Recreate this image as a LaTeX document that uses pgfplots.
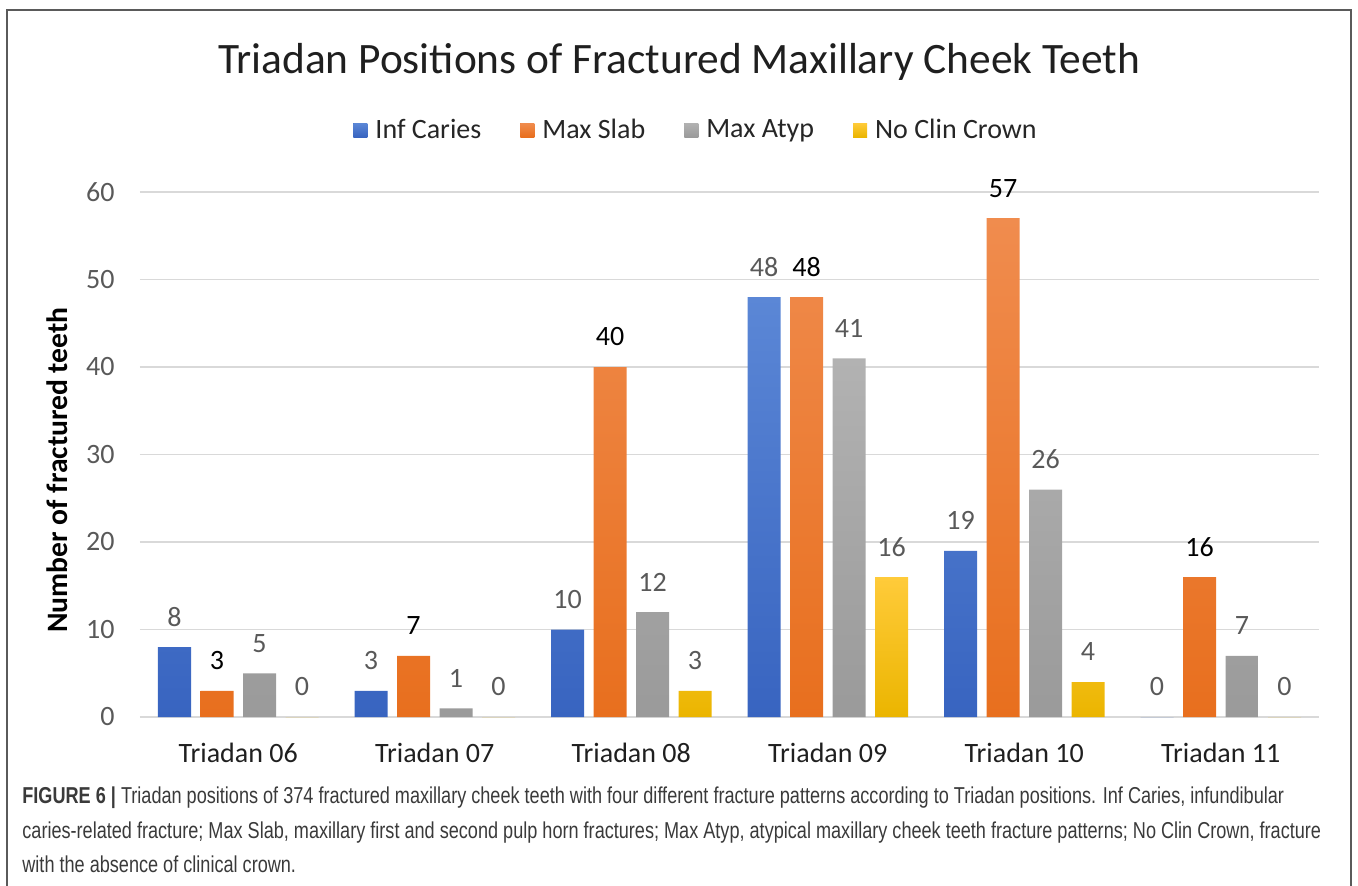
\documentclass[border=0pt]{standalone}
\usepackage{pgfplots}
\usepackage{pgfplotstable}
\pgfplotsset{compat=1.18}
\usepackage{fontspec}
\setmainfont{Carlito}
\newfontfamily\capfont[FakeStretch=0.787]{Liberation Sans}
\definecolor{cblueT}{HTML}{5B87D6}
\definecolor{cblueB}{HTML}{3864C0}
\definecolor{cblue}{HTML}{4472C4}
\definecolor{corangeT}{HTML}{F08C4E}
\definecolor{corangeB}{HTML}{E86F1E}
\definecolor{corange}{HTML}{ED7D31}
\definecolor{cgrayT}{HTML}{B2B2B2}
\definecolor{cgrayB}{HTML}{9A9A9A}
\definecolor{cgray}{HTML}{A5A5A5}
\definecolor{cyelT}{HTML}{FFCB3A}
\definecolor{cyelB}{HTML}{EBB500}
\definecolor{cyel}{HTML}{FFC000}
\definecolor{gridc}{HTML}{D9D9D9}
\definecolor{lab}{HTML}{595959}
\definecolor{capc}{HTML}{3A3A3A}
\definecolor{framec}{HTML}{5A5A5A}

\pgfplotstableread{
x inf slab atyp nocl
0 8 3 5 0
1 3 7 1 0
2 10 40 12 3
3 48 48 41 16
4 19 57 26 4
5 0 16 7 0
}\datatable

\begin{document}
\begin{tikzpicture}
\useasboundingbox (0,0) rectangle (679pt,442.5pt);
\draw[framec, line width=0.8pt] (3.5pt,-5pt) rectangle (675.5pt,437.5pt);
\node[font=\fontsize{21.7}{24}\selectfont, text=black!88] at (339.5pt,411.5pt) {Triadan Positions of Fractured Maxillary Cheek Teeth};
\begin{axis}[
  at={(70pt,84pt)}, anchor=south west,
  width=589.5pt, height=262.5pt, scale only axis,
  xmin=-0.5, xmax=5.5, ymin=0, ymax=60,
  xtick={0,1,2,3,4,5},
  xticklabels={Triadan 06,Triadan 07,Triadan 08,Triadan 09,Triadan 10,Triadan 11},
  ytick={0,10,...,60},
  ymajorgrids, grid style={color=gridc, line width=0.8pt},
  axis line style={draw=none},
  major tick length=0pt,
  ybar=4.75pt, bar width=16.5pt,
  clip=false,
  /pgf/number format/assume math mode=true,
  tick label style={font=\fontsize{14}{16}\selectfont},
  yticklabel style={text=lab, anchor=east, inner sep=0pt, xshift=-12.5pt},
  xticklabel style={text=black!88, anchor=base, inner sep=0pt, yshift=-22.5pt},
  ylabel={Number of fractured teeth},
  ylabel style={at={(axis description cs:-0.0704,0.4705)}, anchor=center, font=\bfseries\fontsize{14.8}{16}\selectfont, text=black},
  nodes near coords,
  every node near coord/.append style={font=\fontsize{14}{16}\selectfont, text=lab, anchor=center, yshift=15pt},
  legend columns=4,
  legend style={at={(0.4725,1.118)}, anchor=center, draw=none, fill=none,
    font=\fontsize{14}{16}\selectfont, text=black!85,
    /tikz/every even column/.append style={column sep=17.5pt}},
]
\addplot[draw=none, top color=cblueT, bottom color=cblueB,
  legend image code/.code={\fill[cblue] (0pt,-3.5pt) rectangle (7pt,3.5pt);\path (0pt,0pt) (9pt,0pt);}]
  table[x=x, y=inf] {\datatable};
\addlegendentry{Inf Caries}
\addplot[draw=none, top color=corangeT, bottom color=corangeB,
  every node near coord/.append style={text=black},
  legend image code/.code={\fill[corange] (0pt,-3.5pt) rectangle (7pt,3.5pt);\path (0pt,0pt) (9pt,0pt);}]
  table[x=x, y=slab] {\datatable};
\addlegendentry{Max Slab}
\addplot[draw=none, top color=cgrayT, bottom color=cgrayB,
  legend image code/.code={\fill[cgray] (0pt,-3.5pt) rectangle (7pt,3.5pt);\path (0pt,0pt) (9pt,0pt);}]
  table[x=x, y=atyp] {\datatable};
\addlegendentry{Max Atyp}
\addplot[draw=none, top color=cyelT, bottom color=cyelB,
  legend image code/.code={\fill[cyel] (0pt,-3.5pt) rectangle (7pt,3.5pt);\path (0pt,0pt) (9pt,0pt);}]
  table[x=x, y=nocl] {\datatable};
\addlegendentry{No Clin Crown}
\end{axis}
\begin{scope}[every node/.style={anchor=base west, inner sep=0pt, text=capc, font=\capfont\fontsize{11.5}{13}\selectfont}]
\node at (11pt,41pt) {\textbf{FIGURE 6 |} Triadan positions of 374 fractured maxillary cheek teeth with four different fracture patterns according to Triadan positions. Inf Caries, infundibular};
\node at (11pt,23.5pt) {caries-related fracture; Max Slab, maxillary first and second pulp horn fractures; Max Atyp, atypical maxillary cheek teeth fracture patterns; No Clin Crown, fracture};
\node at (11pt,6.5pt) {with the absence of clinical crown.};
\end{scope}
\end{tikzpicture}
\end{document}
